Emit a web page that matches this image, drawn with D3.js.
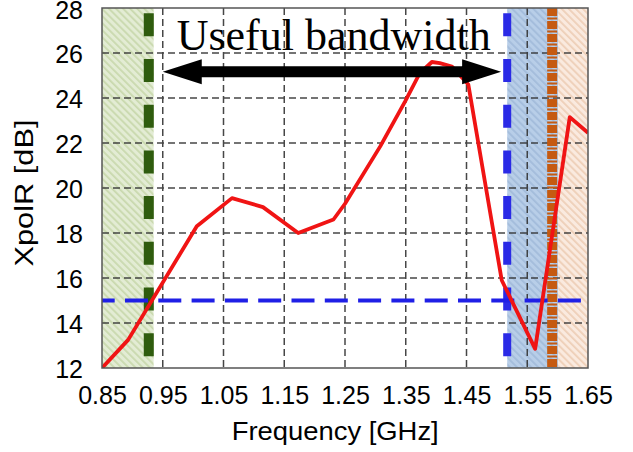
<!DOCTYPE html>
<html>
<head>
<meta charset="utf-8">
<script src="https://cdn.jsdelivr.net/npm/d3@7"></script>
<style>
  html, body { margin: 0; padding: 0; background: #fff; }
  svg { display: block; }
</style>
</head>
<body>
<svg id="chart" width="633" height="452"></svg>
<script>
// ---- data ----
const freqGHz = [0.85, 0.893, 1.006, 1.064, 1.115, 1.173, 1.231, 1.25, 1.308, 1.349, 1.373, 1.393, 1.406, 1.426, 1.453, 1.508, 1.563, 1.62, 1.65];
const xpolR   = [12.0, 13.25, 18.3, 19.55, 19.15, 18.0, 18.6, 19.3, 21.85, 23.85, 25.1, 25.6, 25.55, 25.4, 24.6, 15.9, 12.85, 23.15, 22.45];
const xTicks = [0.85, 0.95, 1.05, 1.15, 1.25, 1.35, 1.45, 1.55, 1.65];
const yTicks = [12, 14, 16, 18, 20, 22, 24, 26, 28];
const threshold = 15;            // horizontal dashed level [dB]
const greenEdge = 0.927;         // lower band edge
const blueEdge = 1.517;          // upper band edge
const orangeEdge = 1.591;
const greenRegion = [0.85, 0.935];
const blueRegion = [1.517, 1.601];
const orangeRegion = [1.601, 1.65];
const arrowFrom = 0.95, arrowTo = 1.507, arrowLevel = 25.17;
const titleText = "Useful bandwidth";

// ---- layout ----
const svg = d3.select("#chart");
const x = d3.scaleLinear().domain([0.85, 1.65]).range([102, 588]);
const y = d3.scaleLinear().domain([12, 28]).range([368, 8]);

const defs = svg.append("defs");
function hatch(id, base, stripe) {
  const p = defs.append("pattern").attr("id", id)
    .attr("patternUnits", "userSpaceOnUse").attr("width", 5).attr("height", 5)
    .attr("patternTransform", "rotate(-45)");
  p.append("rect").attr("width", 5).attr("height", 5).attr("fill", base);
  p.append("rect").attr("width", 1.8).attr("height", 5).attr("fill", stripe);
}
hatch("hGreen", "#e3ecd4", "#c9d9ae");
hatch("hBlue", "#b8cee8", "#a3bcdb");
hatch("hOrange", "#faeadf", "#eecfb8");

defs.append("clipPath").attr("id", "plotClip").append("rect")
  .attr("x", x(0.85)).attr("y", y(28)).attr("width", x(1.65) - x(0.85)).attr("height", y(12) - y(28));

const plot = svg.append("g").attr("clip-path", "url(#plotClip)");

// shaded regions
[[greenRegion, "hGreen"], [blueRegion, "hBlue"], [orangeRegion, "hOrange"]].forEach(([r, id]) => {
  plot.append("rect").attr("x", x(r[0])).attr("y", y(28))
    .attr("width", x(r[1]) - x(r[0])).attr("height", y(12) - y(28))
    .attr("fill", `url(#${id})`);
});

// grid
const grid = plot.append("g").attr("stroke", "#333").attr("stroke-width", 1.5)
  .attr("stroke-dasharray", "7,4").attr("opacity", 0.9);
xTicks.slice(1, -1).forEach(t => grid.append("line")
  .attr("x1", x(t)).attr("x2", x(t)).attr("y1", y(28)).attr("y2", y(12)));
yTicks.slice(1, -1).forEach(t => grid.append("line")
  .attr("x1", x(0.85)).attr("x2", x(1.65)).attr("y1", y(t)).attr("y2", y(t)));

// vertical band-edge lines
plot.append("line").attr("x1", x(greenEdge)).attr("x2", x(greenEdge))
  .attr("y1", y(28)).attr("y2", y(12))
  .attr("stroke", "#2f5c0e").attr("stroke-width", 10)
  .attr("stroke-dasharray", "23,22.7").attr("stroke-dashoffset", 40.4);
plot.append("line").attr("x1", x(blueEdge)).attr("x2", x(blueEdge))
  .attr("y1", y(28)).attr("y2", y(12))
  .attr("stroke", "#2a2ae6").attr("stroke-width", 8)
  .attr("stroke-dasharray", "23,22.7").attr("stroke-dashoffset", 40.4);
plot.append("line").attr("x1", x(orangeEdge)).attr("x2", x(orangeEdge))
  .attr("y1", y(28)).attr("y2", y(12))
  .attr("stroke", "#c55a11").attr("stroke-width", 10)
  .attr("stroke-dasharray", "8,1.5,2,1.5");

// threshold line
plot.append("line").attr("x1", x(0.85)).attr("x2", x(1.65))
  .attr("y1", y(threshold)).attr("y2", y(threshold))
  .attr("stroke", "#1f1fe6").attr("stroke-width", 4)
  .attr("stroke-dasharray", "23,10.3").attr("stroke-dashoffset", 10.3);

// data curve
const line = d3.line().x((d, i) => x(freqGHz[i])).y(d => y(d));
plot.append("path").datum(xpolR).attr("d", line)
  .attr("fill", "none").attr("stroke", "#f01414").attr("stroke-width", 3.8)
  .attr("stroke-linejoin", "round");

// frame
svg.append("rect").attr("x", x(0.85)).attr("y", y(28))
  .attr("width", x(1.65) - x(0.85)).attr("height", y(12) - y(28))
  .attr("fill", "none").attr("stroke", "#555").attr("stroke-width", 1.5);

// double arrow
const ax0 = x(arrowFrom), ax1 = x(arrowTo), ay = y(arrowLevel);
const hl = 39, hh = 12.5, sh = 5.5;
svg.append("path").attr("fill", "#000").attr("d",
  `M${ax0},${ay} L${ax0 + hl},${ay - hh} L${ax0 + hl},${ay - sh} L${ax1 - hl},${ay - sh} L${ax1 - hl},${ay - hh} L${ax1},${ay} L${ax1 - hl},${ay + hh} L${ax1 - hl},${ay + sh} L${ax0 + hl},${ay + sh} L${ax0 + hl},${ay + hh} Z`);

// title annotation
svg.append("text").attr("x", 176.7).attr("y", 50)
  .attr("font-family", "'Liberation Serif', 'Times New Roman', serif")
  .attr("font-size", 44).attr("fill", "#000").text(titleText);

// axes labels
const sans = "'Liberation Sans', Arial, sans-serif";
const xAxis = d3.axisBottom(x).tickValues(xTicks).tickFormat(d3.format(".2f")).tickSize(0).tickPadding(0);
const gx = svg.append("g").attr("transform", `translate(0,${y(12)})`).call(xAxis);
gx.select(".domain").remove();
gx.selectAll("text").attr("font-family", sans).attr("font-size", 25).attr("fill", "#000")
  .attr("dy", null).attr("y", 36);

const yAxis = d3.axisLeft(y).tickValues(yTicks).tickFormat(d3.format("d")).tickSize(0).tickPadding(0);
const gy = svg.append("g").attr("transform", `translate(83,0)`).call(yAxis);
gy.select(".domain").remove();
gy.selectAll("text").attr("font-family", sans).attr("font-size", 25).attr("fill", "#000")
  .attr("x", 0).attr("dy", d => d === 28 ? "0.43em" : "0.36em");

svg.append("text").attr("x", 231.7).attr("y", 440)
  .attr("font-family", sans).attr("font-size", 26).attr("fill", "#000")
  .attr("textLength", 207).attr("lengthAdjust", "spacingAndGlyphs")
  .text("Frequency [GHz]");

svg.append("text").attr("transform", "translate(33,193) rotate(-90)")
  .attr("text-anchor", "middle")
  .attr("font-family", sans).attr("font-size", 26).attr("fill", "#000")
  .attr("textLength", 147).attr("lengthAdjust", "spacingAndGlyphs")
  .text("XpolR [dB]");
</script>
</body>
</html>
